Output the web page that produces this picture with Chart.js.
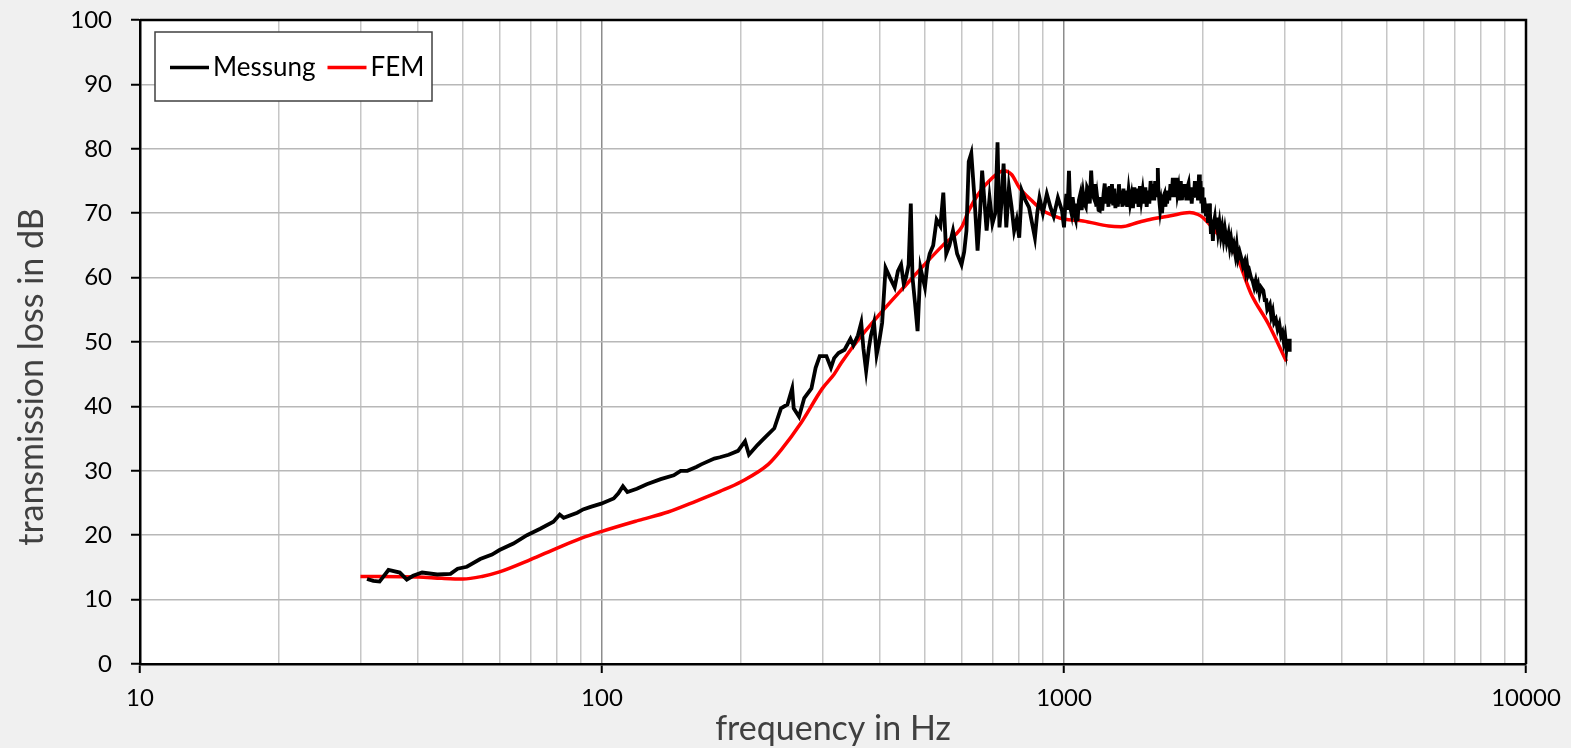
<!DOCTYPE html>
<html>
<head>
<meta charset="utf-8">
<script src="https://cdn.jsdelivr.net/npm/chart.js@4.4.0/dist/chart.umd.min.js"></script>
<style>
  html, body { margin: 0; padding: 0; background: #f0f0f0; }
  #wrap { width: 1571px; height: 748px; }
</style>
</head>
<body>
<div id="wrap"><canvas id="tl-chart" width="1571" height="748"></canvas></div>
<script>
// Messung (measured), frequency in Hz / transmission loss in dB
var messFreq = [31, 32, 33, 34.5, 36.5, 37.8, 39, 40.8, 44, 47, 48.7, 51, 54.5, 57.8, 60, 64.3, 68.8, 73.5, 78.5, 81, 82.6,
  88.4, 91, 94.5, 99.6, 106, 108.5, 111, 113.5, 119, 125, 134, 143, 148, 153, 160, 164, 175, 180, 188, 197, 204, 208,
  217, 224, 236, 244, 252, 258, 260, 267, 274, 284, 290, 296, 306, 313, 318, 325, 335, 345, 350, 358, 364, 368, 373,
  378, 382, 388, 393, 398, 404, 411, 420, 430, 437, 444, 450, 455, 461, 466, 470, 476, 482, 489, 500, 506, 512, 521,
  530, 540, 548, 556, 565, 575, 587, 600, 608, 615, 622, 630, 640, 650, 658, 665, 680, 690, 700, 710, 718, 725, 733,
  740, 750, 760, 770, 780, 790, 800, 810, 825, 840, 850, 865, 875, 885, 900, 918, 935, 950, 970, 990,
  1000, 1006, 1012, 1018, 1025, 1031, 1038, 1044, 1050, 1055, 1060, 1065, 1070, 1077, 1085, 1092, 1100, 1107, 1115,
  1122, 1130, 1137, 1145, 1152, 1160, 1168, 1175, 1180, 1188, 1195, 1202, 1210, 1218, 1225, 1232, 1240, 1248, 1255,
  1262, 1270, 1278, 1285, 1292, 1300, 1308, 1315, 1322, 1330, 1338, 1345, 1352, 1360, 1370, 1380, 1390, 1400, 1410,
  1420, 1430, 1440, 1450, 1460, 1470, 1480, 1490, 1500, 1510, 1520, 1530, 1540, 1550, 1560, 1568, 1575, 1583, 1590,
  1596, 1600, 1608, 1615, 1622, 1630, 1640, 1650, 1658, 1665, 1672, 1680, 1690, 1700, 1710, 1720, 1728, 1735, 1742,
  1750, 1760, 1770, 1780, 1790, 1795, 1800, 1810, 1820, 1830, 1840, 1850, 1860, 1870, 1880, 1890, 1900, 1910, 1920,
  1930, 1940, 1950, 1960, 1968, 1975, 1983, 1990, 1995, 2000, 2010, 2020, 2030, 2040, 2050, 2060, 2070, 2080, 2090,
  2100, 2110, 2120, 2130, 2140, 2155, 2170, 2185, 2200, 2215, 2230, 2250, 2270, 2285, 2300, 2315, 2330, 2350, 2365,
  2380, 2400, 2420, 2440, 2460, 2475, 2490, 2505, 2520, 2540, 2560, 2580, 2600, 2615, 2630, 2650, 2670, 2700, 2720,
  2740, 2755, 2770, 2790, 2810, 2830, 2850, 2875, 2900, 2925, 2950, 2970, 2990, 3010, 3030, 3045, 3060, 3070, 3080];
var messDb = [13.2, 12.9, 12.8, 14.6, 14.2, 13.1, 13.7, 14.2, 13.9, 14.0, 14.8, 15.1, 16.3, 17.0, 17.7, 18.7, 20.0, 21.0,
  22.1, 23.2, 22.7, 23.5, 24.0, 24.4, 24.9, 25.7, 26.5, 27.6, 26.7, 27.2, 27.9, 28.7, 29.3, 30.0, 30.0, 30.6, 31.0,
  31.9, 32.1, 32.5, 33.1, 34.6, 32.5, 34.0, 35.0, 36.6, 39.7, 40.3, 42.8, 39.7, 38.4, 41.3, 42.8, 46.0, 47.8, 47.8,
  46.0, 47.5, 48.3, 48.8, 50.5, 49.5, 51.0, 53.0, 49.0, 45.5, 49.0, 51.0, 53.0, 48.0, 50.0, 53.0, 61.5, 60.0, 58.5,
  61.0, 62.0, 59.0, 60.0, 62.0, 71.5, 60.0, 56.0, 51.7, 61.5, 58.5, 62.0, 63.7, 65.0, 69.0, 68.0, 73.2, 63.7, 65.0,
  67.3, 63.7, 62.0, 64.0, 67.3, 78.0, 79.3, 72.4, 64.2, 70.0, 76.6, 67.3, 72.4, 68.4, 70.0, 81.0, 67.8, 72.0, 77.7,
  67.8, 74.0, 71.0, 67.3, 69.0, 66.2, 73.5, 72.0, 70.9, 69.0, 66.2, 70.0, 72.4, 70.0, 73.0, 70.9, 69.5, 72.4, 70.4,
  67.8, 71.0, 73.0, 70.5, 76.6, 71.0, 70.0, 72.5, 71.0, 69.5, 69.0, 71.5, 68.8, 72.0, 73.0, 70.5, 73.0, 71.5, 71.0,
  74.0, 73.5, 71.5, 76.6, 73.0, 72.4, 74.5, 71.0, 72.4, 70.5, 70.4, 72.5, 70.4, 73.0, 74.6, 71.5, 74.0, 71.0, 74.2,
  71.5, 74.5, 71.2, 73.8, 70.8, 73.0, 71.0, 74.5, 71.5, 73.5, 71.0, 73.8, 71.2, 73.5, 71.0, 73.5, 71.5, 72.8, 70.8,
  74.0, 71.5, 73.8, 71.0, 74.2, 72.0, 73.5, 71.5, 74.0, 71.0, 73.5, 71.5, 75.0, 72.0, 74.5, 72.0, 75.0, 72.5, 74.5,
  77.0, 74.0, 72.0, 70.5, 71.5, 70.0, 72.5, 73.0, 71.0, 73.5, 71.5, 73.5, 72.0, 74.5, 72.5, 75.5, 72.5, 74.5, 73.0,
  75.5, 73.0, 74.0, 72.0, 75.0, 73.0, 72.0, 74.5, 72.5, 74.5, 72.0, 74.0, 74.6, 72.0, 74.0, 71.5, 74.0, 72.4, 75.0,
  72.5, 74.5, 72.0, 76.0, 72.0, 75.0, 71.5, 74.0, 72.0, 70.0, 72.4, 71.0, 69.5, 71.5, 68.5, 71.5, 70.0, 66.8, 69.0,
  65.7, 68.5, 69.3, 67.5, 69.3, 67.0, 68.5, 66.5, 67.8, 66.0, 67.5, 65.5, 66.8, 64.8, 66.0, 64.5, 65.2, 63.5, 65.0,
  63.0, 64.0, 63.0, 61.8, 62.5, 61.0, 62.0, 60.5, 61.0, 60.0, 59.5, 58.5, 59.5, 58.5, 59.0, 57.5, 58.5, 58.0, 56.5,
  56.5, 55.0, 55.3, 55.8, 54.0, 54.8, 53.0, 53.5, 52.0, 52.8, 51.0, 51.5, 50.0, 51.0, 49.0, 50.5, 48.5, 50.5, 48.5];

// FEM (simulation)
var femFreq = [30, 40, 45, 50, 55, 60, 70, 80, 90, 100, 120, 139, 160, 180, 200, 229, 244, 270, 300, 318, 330, 360,
  400, 450, 500, 550, 600, 622, 650, 700, 740, 770, 800, 850, 900, 950, 1000, 1100, 1250, 1330, 1450, 1550, 1700,
  1870, 1950, 2000, 2150, 2350, 2540, 2770, 3030];
var femDb = [13.6, 13.5, 13.3, 13.2, 13.6, 14.3, 16.2, 18.0, 19.5, 20.6, 22.3, 23.6, 25.3, 26.8, 28.3, 31.0, 33.2,
  37.5, 42.8, 45.0, 46.8, 50.5, 54.4, 58.5, 62.1, 65.2, 67.8, 70.4, 72.8, 75.5, 76.6, 76.0, 74.0, 72.0, 70.4, 69.6,
  69.1, 68.8, 68.0, 67.9, 68.6, 69.1, 69.6, 70.1, 69.8, 69.3, 66.8, 63.7, 57.5, 52.8, 47.0];

var xTicks = [10, 20, 30, 40, 50, 60, 70, 80, 90, 100, 200, 300, 400, 500, 600, 700, 800, 900,
  1000, 2000, 3000, 4000, 5000, 6000, 7000, 8000, 9000, 10000];
var xLabels = [10, 100, 1000, 10000];
var seriesNames = ['Messung', 'FEM'];
var seriesColors = ['#000000', '#ff0000'];
var xTitle = 'frequency in Hz';
var yTitle = 'transmission loss in dB';

function toPoints(xs, ys) {
  var pts = [];
  for (var i = 0; i < xs.length; i++) pts.push({ x: xs[i], y: ys[i] });
  return pts;
}

var frame = {
  id: 'frame',
  beforeDraw: function (chart) {
    var c = chart.ctx, a = chart.chartArea;
    c.save();
    c.fillStyle = '#f0f0f0';
    c.fillRect(0, 0, chart.width, chart.height);
    c.fillStyle = '#ffffff';
    c.fillRect(a.left, a.top, a.right - a.left, a.bottom - a.top);
    c.restore();
  },
  afterDraw: function (chart) {
    var c = chart.ctx, a = chart.chartArea;
    c.save();
    c.strokeStyle = '#000';
    c.lineWidth = 2.5;
    c.beginPath();
    c.moveTo(a.left, a.top);
    c.lineTo(a.right, a.top);
    c.lineTo(a.right, a.bottom);
    c.stroke();

    // axis titles
    c.fillStyle = '#404040';
    c.font = '34px Lato';
    c.textAlign = 'center';
    c.textBaseline = 'alphabetic';
    c.fillText(xTitle, (a.left + a.right) / 2, 740);
    c.save();
    c.translate(43, 377);
    c.rotate(-Math.PI / 2);
    c.fillText(yTitle, 0, 0);
    c.restore();

    // legend box
    var bx = 155, by = 32, bw = 277, bh = 69, cy = by + bh / 2 + 1;
    c.fillStyle = '#fff';
    c.fillRect(bx, by, bw, bh);
    c.strokeStyle = '#404040';
    c.lineWidth = 1.5;
    c.strokeRect(bx, by, bw, bh);
    c.font = '26px Lato';
    c.textAlign = 'left';
    c.textBaseline = 'middle';
    var x = 170;
    chart.data.datasets.forEach(function (ds) {
      c.strokeStyle = ds.borderColor;
      c.lineWidth = 3.5;
      c.beginPath();
      c.moveTo(x, cy);
      c.lineTo(x + 39, cy);
      c.stroke();
      x += 43;
      c.fillStyle = '#000';
      c.fillText(ds.label, x, cy);
      x += c.measureText(ds.label).width + 12;
    });
    c.restore();
  }
};

var ctx = document.getElementById('tl-chart').getContext('2d');
var chart = new Chart(ctx, {
  type: 'line',
  data: {
    datasets: [
      { label: seriesNames[0], data: toPoints(messFreq, messDb), borderColor: seriesColors[0], borderWidth: 3.8,
        pointRadius: 0, tension: 0, fill: false },
      { label: seriesNames[1], data: toPoints(femFreq, femDb), borderColor: seriesColors[1], borderWidth: 3.5,
        pointRadius: 0, cubicInterpolationMode: 'monotone', fill: false }
    ]
  },
  options: {
    responsive: false,
    animation: false,
    devicePixelRatio: 1,
    layout: { padding: { top: 20, right: 45, left: 0, bottom: 0 } },
    plugins: { legend: { display: false }, tooltip: { enabled: false } },
    scales: {
      x: {
        type: 'logarithmic',
        min: 10, max: 10000,
        afterBuildTicks: function (scale) {
          scale.ticks = xTicks.map(function (v) { return { value: v }; });
        },
        afterFit: function (scale) {
          scale.height = 84;
          scale.paddingLeft = 0; scale.paddingRight = 0; scale.paddingTop = 0; scale.paddingBottom = 0;
        },
        border: { color: '#000', width: 2.5 },
        grid: {
          color: function (c) { return xLabels.indexOf(c.tick.value) >= 0 ? '#8c8c8c' : '#c6c6c6'; },
          lineWidth: 1.5,
          tickColor: function (c) { return xLabels.indexOf(c.tick.value) >= 0 ? '#000' : 'rgba(0,0,0,0)'; },
          tickLength: 9,
          tickWidth: 2
        },
        ticks: {
          autoSkip: false, maxRotation: 0, padding: 11,
          color: '#000', font: { family: 'Lato', size: 24 },
          callback: function (v) { return xLabels.indexOf(v) >= 0 ? String(v) : ''; }
        }
      },
      y: {
        min: 0, max: 100,
        afterFit: function (scale) {
          scale.width = 140;
          scale.paddingLeft = 0; scale.paddingRight = 0; scale.paddingTop = 0; scale.paddingBottom = 0;
        },
        border: { color: '#000', width: 2.5 },
        grid: { color: '#b8b8b8', lineWidth: 1.5, tickColor: '#000', tickLength: 9, tickWidth: 2 },
        ticks: { stepSize: 10, padding: 19, color: '#000', font: { family: 'Lato', size: 24 } }
      }
    }
  },
  plugins: [frame]
});
</script>
</body>
</html>
